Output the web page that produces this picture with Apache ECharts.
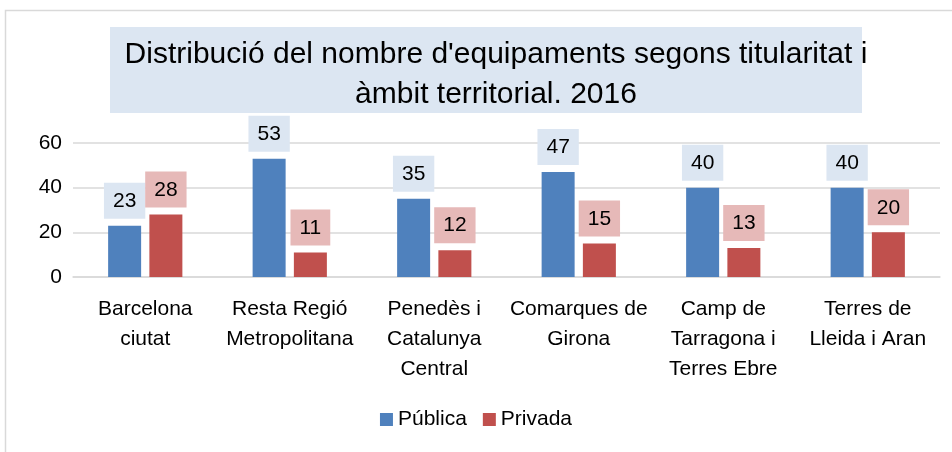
<!DOCTYPE html>
<html>
<head>
<meta charset="utf-8">
<script src="https://cdn.jsdelivr.net/npm/echarts@6/dist/echarts.min.js"></script>
<style>
  html, body { margin: 0; padding: 0; background: #fff; }
  #chart { width: 952px; height: 452px; }
</style>
</head>
<body>
<div id="chart"></div>
<script>
// Chart data
var categories = [
    'Barcelona\nciutat',
    'Resta Regió\nMetropolitana',
    'Penedès i\nCatalunya\nCentral',
    'Comarques de\nGirona',
    'Camp de\nTarragona i\nTerres Ebre',
    'Terres de\nLleida i Aran'
];
var publica = [23, 53, 35, 47, 40, 40];
var privada = [28, 11, 12, 15, 13, 20];
var seriesNames = ['Pública', 'Privada'];
var yTicks = [0, 20, 40, 60];

var font = 'Liberation Sans, Arial, sans-serif';

var chart = echarts.init(document.getElementById('chart'));

// Data label style for each series
var barLabel = function(bg) {
    return {
        show: true,
        position: 'top',
        distance: 7,
        color: '#000',
        fontFamily: font,
        fontSize: 21,
        backgroundColor: bg,
        padding: [8, 9, 7, 9]
    };
};

chart.setOption({
    animation: false,
    color: ['#4f81bd', '#c0504d'],
    textStyle: { fontFamily: font },

    // Outer frame and title box
    graphic: [
        {
            type: 'rect',
            shape: { x: 5.5, y: 10.5, width: 960, height: 460 },
            style: { fill: 'none', stroke: '#d9d9d9', lineWidth: 1.5 },
            silent: true
        },
        {
            type: 'rect',
            shape: { x: 110, y: 27, width: 752, height: 86 },
            style: { fill: '#dce6f2' },
            z: -1,
            silent: true
        }
    ],

    title: {
        text: "Distribució del nombre d'equipaments segons titularitat i\nàmbit territorial. 2016",
        left: 491,
        top: 30,
        textAlign: 'center',
        textStyle: {
            fontFamily: font,
            fontWeight: 'normal',
            fontSize: 30,
            lineHeight: 40,
            color: '#000'
        }
    },

    legend: {
        data: seriesNames,
        bottom: 17,
        left: 'center',
        itemWidth: 13,
        itemHeight: 13,
        itemGap: 16,
        icon: 'rect',
        textStyle: { fontFamily: font, fontSize: 21, color: '#000' }
    },

    grid: {
        left: 73,
        right: 12,
        top: 143,
        bottom: 175,
        containLabel: false
    },

    xAxis: {
        type: 'category',
        data: categories,
        axisTick: { show: false },
        axisLine: { lineStyle: { color: '#d9d9d9', width: 1.5 } },
        axisLabel: {
            interval: 0,
            margin: 17,
            color: '#000',
            fontFamily: font,
            fontSize: 21,
            lineHeight: 30
        }
    },

    yAxis: {
        type: 'value',
        min: yTicks[0],
        max: yTicks[yTicks.length - 1],
        interval: 20,
        axisLine: { show: false },
        axisTick: { show: false },
        axisLabel: { color: '#000', fontFamily: font, fontSize: 21, margin: 11 },
        splitLine: { lineStyle: { color: '#d9d9d9', width: 1.5 } }
    },

    series: [
        {
            name: seriesNames[0],
            type: 'bar',
            data: publica,
            barWidth: 33,
            barGap: '25%',
            label: barLabel('#dce6f2')
        },
        {
            name: seriesNames[1],
            type: 'bar',
            data: privada,
            barWidth: 33,
            label: barLabel('#e6b9b8')
        }
    ]
});
</script>
</body>
</html>
